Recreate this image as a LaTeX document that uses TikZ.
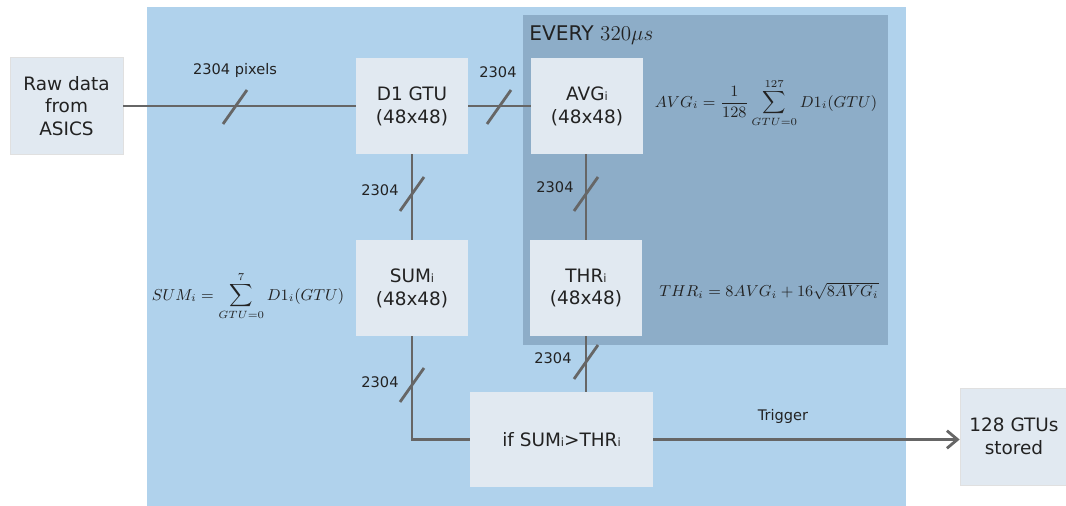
\documentclass[tikz,border=0pt]{standalone}
\usepackage{amsmath}
\usepackage{amssymb}
\usepackage{fontspec}
\usepackage{tikz}
\usetikzlibrary{arrows.meta}
\newfontfamily\blkfont{DejaVu Sans}
\definecolor{outerblue}{HTML}{B0D2EC}
\definecolor{innerblue}{HTML}{8DADC8}
\definecolor{boxfill}{HTML}{E1E9F1}
\definecolor{wire}{HTML}{666666}
\definecolor{ink}{HTML}{222222}
\tikzset{
  blk/.style={fill=boxfill,text=ink,align=center,inner sep=0pt,
    minimum width=2.24cm,minimum height=1.92cm,
    font=\blkfont\fontsize{10.5}{13}\selectfont},
  bus/.style={wire,line width=1.6pt},
  busmark/.style={wire,line width=1.6pt},
  lbl/.style={text=ink,inner sep=0pt,font=\blkfont\fontsize{8.3}{10}\selectfont},
  eqn/.style={text=ink,inner sep=0pt,font=\fontsize{9}{11}\selectfont}
}
\newcommand{\ix}{{\fontsize{6.5}{7}\selectfont i}}
\begin{document}
\begin{tikzpicture}[x=0.02cm,y=-0.02cm]
            \useasboundingbox (0,0) rectangle (1066,506);
            % background panels
            \fill[outerblue](147,7) rectangle (906,506);
            \fill[innerblue](523,15) rectangle (888,345);
            \node[anchor=west,text=ink,inner sep=0pt,font=\blkfont\fontsize{11.5}{14}\selectfont] (every) at (529,35){EVERY $320\mu s$};

            % blocks
            \node[blk,draw=black!12,minimum width=2.26cm,minimum height=1.94cm] (raw) at (66.5,106){Raw data\\from\\ASICS};
            \node[blk] (d1) at (412,106){D1 GTU\\(48x48)};
            \node[blk] (avg) at (587,106){AVG\ix\\(48x48)};
            \node[blk] (sum) at (412,288){SUM\ix\\(48x48)};
            \node[blk] (thr) at (586,288){THR\ix\\(48x48)};
            \node[blk,minimum width=3.66cm,minimum height=1.9cm] (iff) at (561.5,439.5){if SUM\ix>THR\ix};
            \node[blk,draw=black!12,minimum width=2.16cm,minimum height=1.94cm] (gtus) at (1014,436.5){128 GTUs\\stored};

            % connections
            \draw[bus](raw.east) -- (d1.west);
            \draw[bus](d1.east) -- (avg.west);
            \draw[bus](d1.south) -- (sum.north);
            \draw[bus](sum.south) -- (sum.south |- iff.west) -- (iff.west);
            \draw[bus](thr.south |- avg.south) -- (thr.north);
            \draw[bus](thr.south) -- (thr.south |- iff.north);
            \draw[bus,-{Straight Barb[length=6pt,width=10pt,line width=1.6pt]}](iff.east) -- (iff.east -| gtus.west);
            \node[lbl] (trig) at (783,416){Trigger};

            % bus width marks
            \coordinate (m1) at (235,107);
            \coordinate (m2) at (499,107);
            \coordinate (m3) at (412,194);
            \coordinate (m4) at (586,194);
            \coordinate (m5) at (586,362);
            \coordinate (m6) at (412,385);
            \foreach \m in {m1,m2,m3,m4,m5,m6}
              \draw[busmark](\m) ++(-12,17) -- ++(24,-34);
            \node[lbl] (l1) at (235,70){2304 pixels};
            \node[lbl] (l2) at (498,72){2304};
            \node[lbl] (l3) at (380,190){2304};
            \node[lbl] (l4) at (555,187){2304};
            \node[lbl] (l5) at (553,358){2304};
            \node[lbl] (l6) at (380,382){2304};

            % formulas
            \node[eqn] (favg) at (766,103){$\displaystyle AVG_i=\frac{1}{128}\sum_{GTU=0}^{127}D1_i(GTU)$};
            \node[eqn] (fthr) at (769,291){$THR_i=8AVG_i+16\sqrt{8AVG_i}$};
            \node[eqn] (fsum) at (248,296){$\displaystyle SUM_i=\sum_{GTU=0}^{7}D1_i(GTU)$};
        \end{tikzpicture}
\end{document}
